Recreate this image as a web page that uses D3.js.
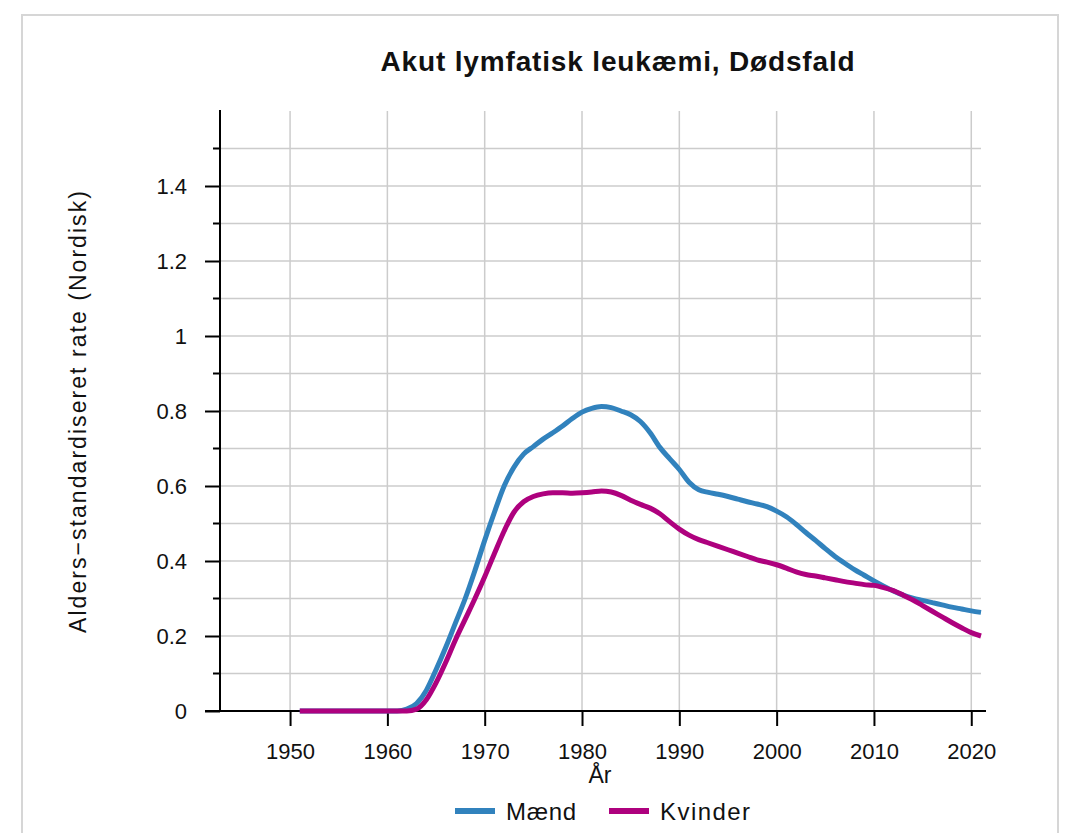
<!DOCTYPE html>
<html>
<head>
<meta charset="utf-8">
<script src="https://cdn.jsdelivr.net/npm/d3@7"></script>
<style>
  html, body { margin: 0; padding: 0; background: #fff; }
  svg { display: block; }
  text { font-family: "Liberation Sans", Arial, sans-serif; fill: #111; }
</style>
</head>
<body>
<svg id="chart" width="1074" height="833"></svg>
<script>
const title = "Akut lymfatisk leukæmi, Dødsfald";
const yLabel = "Alders\u2212standardiseret rate (Nordisk)";
const xLabel = "År";
const seriesNames = ["Mænd", "Kvinder"];
const seriesColors = ["#3182bd", "#ae017e"];

const years = d3.range(1951, 2022);
const maend = [
  0, 0, 0, 0, 0, 0, 0, 0, 0, 0, 0,            // 1951-1961
  0.005, 0.02, 0.055, 0.11, 0.17, 0.235, 0.3, 0.375, 0.455, // 1962-1970
  0.53, 0.60, 0.65, 0.685, 0.705, 0.725, 0.742, 0.76, 0.78, 0.797, // 1971-1980
  0.807, 0.812, 0.809, 0.80, 0.79, 0.772, 0.742, 0.703, 0.673, 0.644, // 1981-1990
  0.61, 0.59, 0.583, 0.578, 0.572, 0.565, 0.558, 0.552, 0.545, 0.533, // 1991-2000
  0.518, 0.498, 0.476, 0.455, 0.433, 0.412, 0.394, 0.377, 0.362, 0.347, // 2001-2010
  0.333, 0.32, 0.309, 0.301, 0.295, 0.289, 0.283, 0.277, 0.272, 0.267, 0.263 // 2011-2021
];
const kvinder = [
  0, 0, 0, 0, 0, 0, 0, 0, 0, 0, 0, 0,         // 1951-1962
  0.005, 0.03, 0.075, 0.13, 0.19, 0.245, 0.30, 0.358, // 1963-1970
  0.42, 0.48, 0.53, 0.558, 0.572, 0.579, 0.582, 0.582, 0.581, 0.582, // 1971-1980
  0.584, 0.587, 0.584, 0.575, 0.562, 0.551, 0.541, 0.526, 0.505, 0.485, // 1981-1990
  0.469, 0.457, 0.448, 0.439, 0.43, 0.421, 0.412, 0.403, 0.397, 0.39, // 1991-2000
  0.381, 0.371, 0.364, 0.36, 0.355, 0.35, 0.345, 0.341, 0.337, 0.335, // 2001-2010
  0.329, 0.321, 0.309, 0.296, 0.281, 0.266, 0.251, 0.236, 0.222, 0.209, 0.2 // 2011-2021
];
const xTicks = [1950, 1960, 1970, 1980, 1990, 2000, 2010, 2020];
const yTicks = [0, 0.2, 0.4, 0.6, 0.8, 1, 1.2, 1.4];
const yMinorTicks = d3.range(0, 16).map(i => i / 10);

const svg = d3.select("#chart");

// fit a text element to a target width using letter-spacing
function fitWidth(sel, target) {
  const n = sel.text().length;
  const w = sel.node().getComputedTextLength();
  if (n > 1) sel.attr("letter-spacing", ((target - w) / (n - 1)).toFixed(2));
}

// outer panel
svg.append("rect")
  .attr("x", 22).attr("y", 15).attr("width", 1036).attr("height", 840)
  .attr("fill", "#fff").attr("stroke", "#d6d6d6").attr("stroke-width", 2);

const pLeft = 220, pRight = 981, pTop = 111, pBottom = 711;
const x = d3.scaleLinear().domain([1942.8, 2021]).range([pLeft, pRight]);
const y = d3.scaleLinear().domain([0, 1.6]).range([pBottom, pTop]);

// grid
const grid = svg.append("g");
grid.selectAll(".hg").data(yMinorTicks.slice(1)).join("line")
  .attr("x1", pLeft).attr("x2", pRight)
  .attr("y1", d => y(d)).attr("y2", d => y(d))
  .attr("stroke", "#cccccc").attr("stroke-width", 1.5);
grid.selectAll(".vg").data(xTicks).join("line")
  .attr("x1", d => x(d)).attr("x2", d => x(d))
  .attr("y1", pTop).attr("y2", pBottom)
  .attr("stroke", "#cccccc").attr("stroke-width", 1.5);

// y axis
const yAxis = svg.append("g").attr("transform", `translate(${pLeft},0)`)
  .call(d3.axisLeft(y).tickValues(yTicks).tickSize(15).tickPadding(18)
    .tickFormat(d => d3.format("~g")(d)));
yAxis.select(".domain").remove();
yAxis.selectAll(".tick line").attr("stroke", "#000").attr("stroke-width", 2);
yAxis.selectAll(".tick text").attr("font-size", 22)
  .attr("font-family", "'Liberation Sans', Arial, sans-serif").attr("fill", "#111");
svg.append("g").attr("transform", `translate(${pLeft},0)`)
  .selectAll("line").data(yMinorTicks.filter(d => Math.round(d * 10) % 2 === 1)).join("line")
  .attr("x1", -7).attr("x2", 0).attr("y1", d => y(d)).attr("y2", d => y(d))
  .attr("stroke", "#000").attr("stroke-width", 2);
svg.append("line").attr("x1", pLeft).attr("x2", pLeft).attr("y1", pTop - 1).attr("y2", pBottom)
  .attr("stroke", "#000").attr("stroke-width", 2);

// x axis
const xAxis = svg.append("g").attr("transform", `translate(0,${pBottom})`)
  .call(d3.axisBottom(x).tickValues(xTicks).tickSize(15).tickPadding(17).tickFormat(d3.format("d")));
xAxis.select(".domain").remove();
xAxis.selectAll(".tick line").attr("stroke", "#000").attr("stroke-width", 2);
xAxis.selectAll(".tick text").attr("font-size", 22)
  .attr("font-family", "'Liberation Sans', Arial, sans-serif").attr("fill", "#111");
svg.append("line").attr("x1", 205).attr("x2", 986).attr("y1", pBottom).attr("y2", pBottom)
  .attr("stroke", "#000").attr("stroke-width", 2);

// lines
const line = d3.line().x(d => x(d[0])).y(d => y(d[1])).curve(d3.curveMonotoneX);
[maend, kvinder].forEach((vals, i) => {
  svg.append("path")
    .datum(years.map((yr, j) => [yr, vals[j]]))
    .attr("fill", "none").attr("stroke", seriesColors[i])
    .attr("stroke-width", 5).attr("stroke-linejoin", "round")
    .attr("d", line);
});

// title
const t = svg.append("text").attr("x", 618).attr("y", 71).attr("text-anchor", "middle")
  .attr("font-family", "'Noto Sans', 'Open Sans', sans-serif")
  .attr("font-size", 28).attr("font-weight", "bold").text(title);
fitWidth(t, 474);

// axis labels
const yl = svg.append("text").attr("transform", "translate(86,411) rotate(-90)")
  .attr("text-anchor", "middle").attr("font-size", 23).text(yLabel);
fitWidth(yl, 442);
svg.append("text").attr("x", 600).attr("y", 783).attr("text-anchor", "middle")
  .attr("font-size", 23).text(xLabel);

// legend
const legend = svg.append("g");
const legX = [455, 609];
const legW = [70, 90];
seriesNames.forEach((name, i) => {
  legend.append("line").attr("x1", legX[i]).attr("x2", legX[i] + 40)
    .attr("y1", 811).attr("y2", 811)
    .attr("stroke", seriesColors[i]).attr("stroke-width", 6);
  const lt = legend.append("text").attr("x", legX[i] + 51).attr("y", 819.5)
    .attr("font-size", 24).text(name);
  fitWidth(lt, legW[i]);
});
</script>
</body>
</html>
